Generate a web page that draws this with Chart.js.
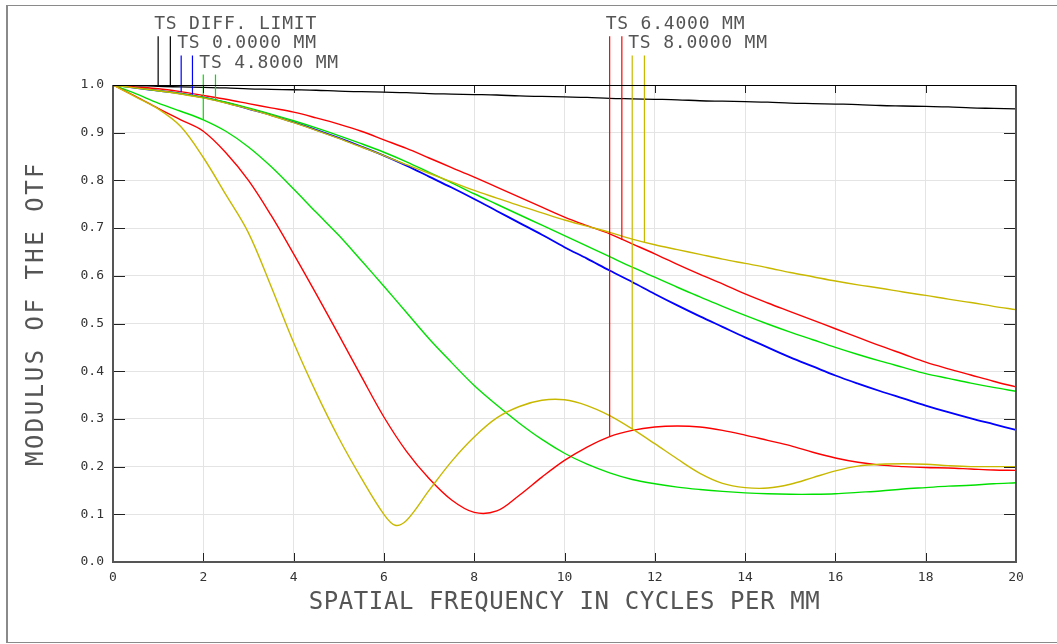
<!DOCTYPE html>
<html>
<head>
<meta charset="utf-8">
<script src="https://cdn.jsdelivr.net/npm/chart.js@4.4.1/dist/chart.umd.min.js"></script>
<style>
  html, body { margin: 0; padding: 0; background: #fff; }
  #wrap { position: relative; width: 1057px; height: 644px; overflow: hidden; }
  #frame { position: absolute; left: 6px; top: 5px; width: 1100px; height: 636px;
           border-left: 2px solid #8a8a8a; border-top: 1px solid #8a8a8a; border-bottom: 1px solid #8a8a8a; }
  #wrap canvas { position: absolute; left: 0; top: 0; }
</style>
</head>
<body>
<div id="wrap">
  <div id="frame"></div>
  <canvas id="mtf"></canvas>
</div>
<script>
// spatial frequency, cycles per mm
const freq = [0, 0.5, 1, 1.5, 2, 2.5, 3, 3.5, 4, 4.5, 5, 5.5, 6, 6.5, 7, 7.5, 8, 8.5, 9, 9.5,
  10, 10.5, 11, 11.5, 12, 12.5, 13, 13.5, 14, 14.5, 15, 15.5, 16, 16.5, 17, 17.5, 18, 18.5, 19, 19.5, 20];
// the 8.0 mm tangential curve has an extra sample at its first minimum
const freq80Tan = [0, 0.5, 1, 1.5, 2, 2.5, 3, 3.5, 4, 4.5, 5, 5.5, 6, 6.25, 6.5, 7, 7.5, 8, 8.5, 9, 9.5,
  10, 10.5, 11, 11.5, 12, 12.5, 13, 13.5, 14, 14.5, 15, 15.5, 16, 16.5, 17, 17.5, 18, 18.5, 19, 19.5, 20];

const diffLimit = [1.000, 0.999, 0.997, 0.996, 0.995, 0.994, 0.992, 0.991, 0.990, 0.989,
  0.987, 0.986, 0.985, 0.984, 0.982, 0.981, 0.980, 0.979, 0.977, 0.976,
  0.975, 0.974, 0.972, 0.971, 0.970, 0.969, 0.967, 0.966, 0.965, 0.964,
  0.962, 0.961, 0.960, 0.959, 0.957, 0.956, 0.955, 0.954, 0.952, 0.951, 0.950];
const field00 = [1.000, 0.994, 0.988, 0.982, 0.974, 0.963, 0.950, 0.937, 0.922, 0.906,
  0.889, 0.871, 0.852, 0.831, 0.808, 0.785, 0.761, 0.736, 0.711, 0.686,
  0.660, 0.636, 0.611, 0.587, 0.562, 0.538, 0.515, 0.493, 0.471, 0.450,
  0.429, 0.410, 0.391, 0.374, 0.358, 0.343, 0.328, 0.314, 0.301, 0.289, 0.277];
const field48Sag = [1.000, 0.994, 0.988, 0.982, 0.974, 0.964, 0.952, 0.939, 0.925, 0.910,
  0.894, 0.877, 0.859, 0.839, 0.817, 0.795, 0.772, 0.750, 0.728, 0.706,
  0.684, 0.662, 0.640, 0.618, 0.597, 0.576, 0.556, 0.536, 0.517, 0.499,
  0.482, 0.466, 0.450, 0.435, 0.421, 0.408, 0.395, 0.385, 0.375, 0.366, 0.358];
const field48Tan = [1.000, 0.982, 0.962, 0.945, 0.927, 0.903, 0.870, 0.829, 0.782, 0.733,
  0.685, 0.632, 0.578, 0.523, 0.468, 0.418, 0.370, 0.329, 0.291, 0.257,
  0.228, 0.205, 0.187, 0.173, 0.164, 0.157, 0.152, 0.148, 0.145, 0.143,
  0.142, 0.142, 0.143, 0.146, 0.149, 0.153, 0.156, 0.159, 0.161, 0.164, 0.166];
const field64Sag = [1.000, 0.996, 0.992, 0.986, 0.978, 0.970, 0.961, 0.952, 0.943, 0.931,
  0.918, 0.903, 0.885, 0.867, 0.847, 0.827, 0.807, 0.786, 0.765, 0.744,
  0.723, 0.705, 0.688, 0.667, 0.646, 0.624, 0.603, 0.583, 0.562, 0.543,
  0.525, 0.507, 0.489, 0.471, 0.453, 0.436, 0.419, 0.405, 0.392, 0.379, 0.367];
const field64Tan = [1.000, 0.976, 0.951, 0.927, 0.903, 0.858, 0.800, 0.727, 0.646, 0.562,
  0.476, 0.389, 0.304, 0.232, 0.175, 0.130, 0.104, 0.107, 0.140, 0.178,
  0.213, 0.241, 0.263, 0.276, 0.283, 0.285, 0.283, 0.276, 0.266, 0.255,
  0.244, 0.230, 0.218, 0.209, 0.203, 0.200, 0.198, 0.197, 0.195, 0.193, 0.192];
const field80Sag = [1.000, 0.994, 0.988, 0.981, 0.973, 0.962, 0.950, 0.936, 0.921, 0.905,
  0.888, 0.870, 0.852, 0.833, 0.815, 0.797, 0.779, 0.763, 0.747, 0.732,
  0.717, 0.704, 0.691, 0.677, 0.665, 0.655, 0.645, 0.635, 0.626, 0.617,
  0.607, 0.598, 0.589, 0.581, 0.574, 0.566, 0.559, 0.551, 0.544, 0.536, 0.529];
const field80Tan = [1.000, 0.975, 0.950, 0.913, 0.848, 0.770, 0.690, 0.578, 0.460, 0.355,
  0.260, 0.176, 0.100, 0.077, 0.087, 0.150, 0.211, 0.262, 0.302, 0.326, 0.339,
  0.340, 0.328, 0.307, 0.279, 0.248, 0.216, 0.186, 0.165, 0.156, 0.155,
  0.163, 0.177, 0.191, 0.201, 0.205, 0.206, 0.205, 0.202, 0.200, 0.200, 0.200];

const xTicks = [0, 2, 4, 6, 8, 10, 12, 14, 16, 18, 20];
const yTicks = [0, 0.1, 0.2, 0.3, 0.4, 0.5, 0.6, 0.7, 0.8, 0.9, 1.0];

// field labels and their pointer lines (two per field: T and S)
const fieldLabels = ['TS DIFF. LIMIT', 'TS 0.0000 MM', 'TS 4.8000 MM', 'TS 6.4000 MM', 'TS 8.0000 MM'];
const fieldColors = ['#000000', '#0000ff', '#00e000', '#ff0000', '#c8b800'];
const markerFreq = [[1.0, 1.27], [1.51, 1.76], [2.0, 2.27], [11.0, 11.27], [11.5, 11.77]];
const markerTop = [1.102, 1.062, 1.022, 1.102, 1.062];
const markerEnd = [[0.998, 0.997], [0.985, 0.980], [0.927, 0.967], [0.263, 0.675], [0.279, 0.670]];

const FONT = "'DejaVu Sans Mono', monospace";

const curve = (xs, ys, color, width) => ({
  data: xs.map((f, i) => ({ x: f, y: ys[i] })),
  borderColor: color,
  borderWidth: width || 1.4,
  pointRadius: 0,
  tension: 0.35,
  fill: false,
});

const markerSets = [];
markerFreq.forEach((pair, k) => {
  pair.forEach((f, j) => {
    markerSets.push({
      data: [{ x: f, y: markerTop[k] }, { x: f, y: markerEnd[k][j] }],
      borderColor: fieldColors[k],
      borderWidth: 1.2,
      pointRadius: 0,
      clip: false,
    });
  });
});

const otfDecor = {
  id: 'otfDecor',
  afterDraw(chart) {
    const { ctx, chartArea: a, scales: { x, y } } = chart;
    ctx.save();

    // inward tick marks
    ctx.strokeStyle = '#222';
    ctx.lineWidth = 1;
    ctx.beginPath();
    yTicks.forEach((v) => {
      const py = Math.round(y.getPixelForValue(v)) + 0.5;
      ctx.moveTo(a.left, py); ctx.lineTo(a.left + 12, py);
      ctx.moveTo(a.right - 12, py); ctx.lineTo(a.right, py);
    });
    xTicks.forEach((f) => {
      const px = Math.round(x.getPixelForValue(f)) + 0.5;
      ctx.moveTo(px, a.bottom); ctx.lineTo(px, a.bottom - 9);
      ctx.moveTo(px, a.top); ctx.lineTo(px, a.top + 8);
    });
    ctx.stroke();

    // plot box
    ctx.strokeStyle = '#555';
    ctx.lineWidth = 2;
    ctx.beginPath();
    ctx.moveTo(a.left, a.top); ctx.lineTo(a.left, a.bottom);
    ctx.lineTo(a.right, a.bottom); ctx.lineTo(a.right, a.top);
    ctx.stroke();
    ctx.strokeStyle = '#000';
    ctx.lineWidth = 1;
    ctx.beginPath();
    ctx.moveTo(a.left, Math.round(a.top) + 0.5); ctx.lineTo(a.right, Math.round(a.top) + 0.5);
    ctx.stroke();

    // axis titles
    ctx.fillStyle = '#555';
    ctx.textBaseline = 'middle';
    ctx.textAlign = 'center';
    ctx.font = '24px ' + FONT;
    ctx.letterSpacing = '0.6px';
    ctx.fillText('SPATIAL FREQUENCY IN CYCLES PER MM', (a.left + a.right) / 2, 603);
    ctx.save();
    ctx.translate(37, (a.top + a.bottom) / 2 - 10);
    ctx.rotate(-Math.PI / 2);
    ctx.letterSpacing = '2.5px';
    ctx.fillText('MODULUS OF THE OTF', 0, 0);
    ctx.restore();

    // field labels above their pointer lines
    ctx.font = '18px ' + FONT;
    ctx.letterSpacing = '0.8px';
    ctx.textAlign = 'left';
    ctx.textBaseline = 'alphabetic';
    fieldLabels.forEach((txt, k) => {
      const px = x.getPixelForValue(markerFreq[k][0]) - 4;
      const py = y.getPixelForValue(markerTop[k]) - 7;
      ctx.fillText(txt, px, py);
    });
    ctx.restore();
  },
};

new Chart(document.getElementById('mtf'), {
  type: 'line',
  data: {
    datasets: [
      ...markerSets,
      curve(freq, diffLimit, '#000000', 1.3),
      curve(freq, field80Sag, fieldColors[4]),
      curve(freq80Tan, field80Tan, fieldColors[4]),
      curve(freq, field64Sag, fieldColors[3]),
      curve(freq, field64Tan, fieldColors[3]),
      curve(freq, field48Sag, fieldColors[2]),
      curve(freq, field48Tan, fieldColors[2]),
      curve(freq, field00, fieldColors[1], 1.8),
    ],
  },
  options: {
    responsive: true,
    maintainAspectRatio: false,
    animation: false,
    layout: { padding: { top: 85, right: 41, left: 0, bottom: 0 } },
    plugins: { legend: { display: false }, tooltip: { enabled: false } },
    scales: {
      x: {
        type: 'linear',
        min: 0,
        max: 20,
        afterFit: (s) => { s.height = 82; },
        afterBuildTicks: (s) => { s.ticks = xTicks.map((v) => ({ value: v })); },
        grid: { color: '#e4e4e4', drawTicks: false },
        border: { display: false },
        ticks: {
          padding: 8,
          color: '#333',
          font: { family: FONT, size: 13 },
          callback: (v) => String(v),
        },
      },
      y: {
        min: 0,
        max: 1,
        afterFit: (s) => { s.width = 113; },
        afterBuildTicks: (s) => { s.ticks = yTicks.map((v) => ({ value: v })); },
        grid: { color: '#e4e4e4', drawTicks: false },
        border: { display: false },
        ticks: {
          padding: 9,
          color: '#333',
          font: { family: FONT, size: 13 },
          callback: (v) => Number(v).toFixed(1),
        },
      },
    },
  },
  plugins: [otfDecor],
});
</script>
</body>
</html>
